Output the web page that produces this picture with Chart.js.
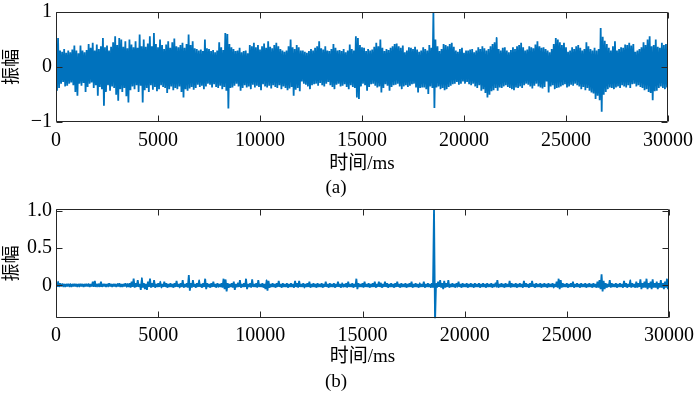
<!DOCTYPE html>
<html><head><meta charset="utf-8">
<script src="https://cdn.jsdelivr.net/npm/chart.js@4.4.1/dist/chart.umd.min.js"></script>
<style>
html,body{margin:0;padding:0;background:#fff;}
#w{position:relative;width:700px;height:393px;overflow:hidden;background:#fff;}
canvas{position:absolute;left:0;}
#c1{top:0}
#c2{top:197px}
</style></head><body>
<div id="w"><canvas id="c1" width="700" height="199"></canvas><canvas id="c2" width="700" height="196"></canvas></div>
<script>
// ---- data ----
const SAMPLE_MS = 100;             // one envelope sample per 100 ms
const xTickValues = [0, 5000, 10000, 15000, 20000, 25000, 30000];
const yTickValuesA = [-1, 0, 1];
const yTickValuesB = [0, 0.5, 1];
const panelLabels = ['(a)', '(b)'];
const xAxisTitle = '时间/ms';
const yAxisTitle = '振幅';

// (a) raw signal: local maxima / minima per 100 ms
const peaksA = [
.35,.53,.3,.28,.33,.26,.3,.27,.32,.39,
.3,.25,.39,.3,.27,.31,.42,.35,.44,.3,
.41,.33,.38,.53,.36,.39,.3,.37,.45,.56,
.4,.53,.5,.37,.47,.34,.5,.41,.36,.47,
.35,.59,.38,.5,.37,.43,.56,.38,.62,.42,
.36,.5,.4,.33,.41,.47,.35,.45,.52,.38,
.36,.4,.44,.35,.42,.59,.4,.47,.34,.33,
.3,.32,.29,.5,.34,.33,.29,.31,.27,.3,
.45,.36,.31,.62,.6,.42,.36,.33,.29,.3,
.35,.27,.29,.3,.25,.4,.38,.44,.36,.4,
.32,.38,.43,.35,.47,.37,.34,.4,.44,.38,
.33,.3,.28,.3,.38,.5,.36,.33,.4,.36,
.3,.3,.28,.26,.29,.33,.3,.35,.38,.47,
.34,.32,.38,.3,.29,.33,.42,.35,.3,.31,
.29,.33,.27,.3,.41,.33,.3,.56,.53,.4,
.36,.35,.29,.33,.3,.32,.37,.44,.38,.5,
.35,.29,.33,.31,.35,.38,.42,.43,.38,.35,
.39,.27,.3,.36,.35,.33,.37,.32,.28,.3,
.36,.33,.3,.4,.35,1.0,.5,.38,.29,.33,
.42,.4,.38,.42,.44,.37,.3,.28,.33,.35,
.26,.3,.3,.32,.33,.27,.3,.36,.33,.38,
.34,.3,.33,.38,.42,.45,.53,.33,.3,.35,
.36,.3,.27,.31,.36,.33,.38,.4,.44,.36,
.3,.32,.38,.36,.34,.41,.47,.38,.35,.36,
.33,.3,.27,.33,.42,.53,.5,.45,.4,.44,
.36,.28,.3,.36,.33,.38,.4,.35,.3,.33,
.45,.38,.33,.3,.35,.3,.33,.71,.55,.48,
.42,.35,.3,.38,.47,.3,.33,.36,.35,.41,
.4,.44,.39,.42,.28,.3,.33,.36,.45,.4,
.5,.56,.38,.4,.5,.37,.35,.44,.4,.42,
.38
];
const troughsA = [
-.43,-.38,-.3,-.27,-.35,-.34,-.3,-.28,-.33,-.45,
-.52,-.3,-.34,-.29,-.45,-.36,-.3,-.28,-.38,-.33,
-.52,-.36,-.4,-.7,-.45,-.33,-.43,-.35,-.38,-.5,
-.61,-.4,-.45,-.38,-.53,-.64,-.42,-.35,-.4,-.33,
-.45,-.34,-.64,-.42,-.38,-.45,-.33,-.41,-.36,-.44,
-.4,-.33,-.36,-.38,-.47,-.4,-.35,-.42,-.38,-.4,
-.35,-.45,-.55,-.4,-.43,-.39,-.36,-.41,-.38,-.32,
-.36,-.34,-.4,-.35,-.3,-.32,-.37,-.31,-.36,-.38,
-.34,-.4,-.36,-.43,-.75,-.38,-.37,-.34,-.3,-.35,
-.43,-.38,-.33,-.37,-.35,-.4,-.32,-.37,-.34,-.36,
-.42,-.31,-.35,-.37,-.34,-.39,-.33,-.36,-.38,-.33,
-.4,-.35,-.38,-.42,-.39,-.36,-.52,-.41,-.38,-.44,
-.26,-.3,-.32,-.35,-.4,-.33,-.31,-.3,-.34,-.29,
-.33,-.35,-.3,-.27,-.33,-.36,-.4,-.32,-.3,-.35,
-.34,-.31,-.36,-.4,-.33,-.36,-.38,-.55,-.58,-.35,
-.3,-.33,-.43,-.36,-.31,-.3,-.34,-.37,-.35,-.46,
-.38,-.31,-.34,-.43,-.36,-.33,-.32,-.3,-.35,-.4,
-.35,-.33,-.36,-.34,-.31,-.3,-.37,-.46,-.38,-.37,
-.37,-.4,-.49,-.35,-.38,-.74,-.37,-.35,-.4,-.38,
-.42,-.4,-.36,-.34,-.31,-.3,-.27,-.32,-.3,-.26,
-.3,-.27,-.31,-.33,-.3,-.35,-.38,-.33,-.43,-.4,
-.47,-.55,-.5,-.44,-.42,-.38,-.43,-.37,-.38,-.35,
-.33,-.36,-.38,-.4,-.42,-.37,-.38,-.35,-.38,-.33,
-.3,-.32,-.35,-.39,-.34,-.3,-.35,-.37,-.39,-.36,
-.26,-.46,-.35,-.33,-.4,-.38,-.37,-.35,-.33,-.31,
-.37,-.35,-.32,-.34,-.3,-.33,-.35,-.4,-.36,-.42,
-.38,-.43,-.46,-.48,-.58,-.52,-.6,-.81,-.5,-.45,
-.4,-.37,-.38,-.4,-.37,-.35,-.38,-.33,-.35,-.37,
-.33,-.38,-.31,-.3,-.35,-.33,-.36,-.38,-.42,-.4,
-.45,-.47,-.6,-.44,-.43,-.38,-.35,-.38,-.4,-.37,
-.35
];

// (b) processed signal: local maxima / minima per 100 ms
const peaksB = [
.02,.05,.03,.02,.02,.02,.02,.02,.02,.02,
.02,.02,.02,.02,.02,.02,.02,.02,.05,.06,
.02,.02,.05,.02,.02,.02,.03,.02,.02,.02,
.02,.03,.02,.02,.03,.02,.03,.05,.09,.03,
.07,.02,.10,.03,.02,.05,.09,.03,.07,.02,
.03,.05,.02,.05,.03,.02,.03,.02,.03,.06,
.02,.03,.07,.02,.03,.14,.03,.07,.02,.03,
.07,.02,.03,.09,.03,.02,.03,.05,.02,.03,
.02,.03,.09,.08,.03,.02,.03,.05,.02,.03,
.07,.02,.03,.09,.02,.03,.08,.02,.03,.07,
.02,.03,.02,.07,.06,.02,.03,.02,.03,.06,
.02,.03,.02,.03,.02,.03,.02,.06,.03,.06,
.02,.03,.02,.03,.05,.02,.03,.02,.03,.02,
.03,.02,.05,.02,.03,.02,.03,.02,.05,.02,
.03,.02,.03,.05,.02,.03,.02,.09,.03,.02,
.03,.05,.02,.03,.02,.03,.05,.02,.05,.03,
.02,.05,.03,.02,.03,.02,.03,.05,.02,.03,
.02,.03,.02,.03,.05,.02,.03,.02,.03,.02,
.05,.02,.03,.02,.03,1.05,.03,.05,.07,.03,
.06,.03,.07,.02,.03,.02,.03,.05,.02,.03,
.02,.03,.02,.03,.02,.03,.02,.03,.02,.03,
.02,.03,.02,.03,.02,.03,.07,.02,.03,.02,
.03,.02,.06,.03,.02,.03,.02,.03,.02,.06,
.03,.02,.03,.06,.02,.03,.02,.03,.02,.03,
.02,.03,.02,.03,.02,.05,.09,.07,.03,.02,
.03,.02,.03,.05,.02,.03,.02,.03,.02,.03,
.02,.03,.02,.03,.02,.05,.07,.15,.06,.03,
.02,.07,.03,.02,.03,.02,.03,.02,.06,.03,
.02,.07,.03,.02,.05,.03,.08,.03,.05,.09,
.03,.05,.08,.03,.05,.03,.07,.03,.05,.09,
.03
];
const troughsB = [
-.02,-.02,-.015,-.015,-.02,-.015,-.015,-.02,-.015,-.015,
-.02,-.015,-.015,-.02,-.015,-.015,-.02,-.015,-.02,-.02,
-.015,-.02,-.02,-.015,-.02,-.015,-.015,-.02,-.015,-.02,
-.015,-.02,-.02,-.015,-.02,-.02,-.03,-.02,-.03,-.02,
-.02,-.06,-.03,-.05,-.06,-.02,-.03,-.02,-.03,-.02,
-.02,-.03,-.02,-.02,-.03,-.02,-.02,-.03,-.02,-.02,
-.03,-.02,-.03,-.02,-.03,-.07,-.03,-.02,-.03,-.02,
-.02,-.03,-.02,-.05,-.02,-.03,-.02,-.02,-.03,-.02,
-.02,-.03,-.05,-.08,-.03,-.02,-.03,-.06,-.02,-.02,
-.03,-.02,-.02,-.05,-.02,-.03,-.02,-.02,-.03,-.02,
-.02,-.03,-.05,-.07,-.03,-.02,-.02,-.03,-.02,-.02,
-.03,-.02,-.02,-.03,-.02,-.02,-.03,-.02,-.03,-.02,
-.02,-.03,-.02,-.02,-.03,-.02,-.02,-.03,-.02,-.02,
-.03,-.02,-.02,-.03,-.02,-.02,-.03,-.02,-.02,-.03,
-.02,-.02,-.03,-.02,-.02,-.03,-.02,-.05,-.02,-.02,
-.03,-.02,-.02,-.03,-.02,-.02,-.03,-.02,-.02,-.03,
-.02,-.02,-.03,-.02,-.02,-.03,-.02,-.02,-.03,-.02,
-.02,-.03,-.02,-.02,-.03,-.02,-.02,-.03,-.02,-.02,
-.03,-.02,-.02,-.03,-.03,-.5,-.03,-.02,-.03,-.05,
-.03,-.02,-.03,-.02,-.02,-.03,-.02,-.02,-.03,-.02,
-.02,-.03,-.02,-.02,-.03,-.02,-.02,-.03,-.02,-.02,
-.03,-.02,-.02,-.03,-.02,-.02,-.03,-.02,-.02,-.03,
-.02,-.02,-.03,-.02,-.02,-.03,-.02,-.02,-.03,-.02,
-.02,-.03,-.02,-.02,-.03,-.02,-.02,-.03,-.02,-.02,
-.03,-.02,-.02,-.03,-.02,-.03,-.05,-.03,-.02,-.02,
-.03,-.02,-.02,-.03,-.02,-.02,-.03,-.02,-.02,-.03,
-.02,-.02,-.03,-.02,-.03,-.03,-.05,-.08,-.05,-.03,
-.02,-.03,-.02,-.02,-.03,-.02,-.02,-.03,-.02,-.03,
-.02,-.03,-.02,-.03,-.03,-.02,-.05,-.03,-.03,-.05,
-.03,-.05,-.03,-.03,-.05,-.03,-.03,-.05,-.03,-.05,
-.03
];

// ---- trace: alternate each interval's peak and trough ----
function buildTrace(peaks, troughs) {
  const pts = [];
  for (let i = 0; i < peaks.length; i++) {
    pts.push({x: i * SAMPLE_MS, y: peaks[i]});
    pts.push({x: i * SAMPLE_MS + SAMPLE_MS / 2, y: troughs[i]});
  }
  return pts;
}

const SERIF = '"Liberation Serif","Times New Roman","Noto Sans CJK SC",serif';
const INK = '#000';
const AXIS = '#262626';
const LINE = '#0072BD';

const framePlugin = {
  id: 'frame',
  afterDatasetsDraw(chart) {
    const {ctx, chartArea: a, scales: {x, y}} = chart;
    const L = Math.round(a.left) + 0.5, R = Math.round(a.right) - 0.5;
    const T = Math.round(a.top) + 0.5, B = Math.round(a.bottom) - 0.5;
    const TL = 6;
    ctx.save();
    ctx.strokeStyle = AXIS;
    ctx.lineWidth = 1;
    ctx.beginPath();
    ctx.rect(L, T, R - L, B - T);
    x.ticks.forEach(t => {
      const px = Math.round(x.getPixelForValue(t.value)) + 0.5;
      ctx.moveTo(px, B); ctx.lineTo(px, B - TL);
      ctx.moveTo(px, T); ctx.lineTo(px, T + TL);
    });
    y.ticks.forEach(t => {
      const py = Math.round(y.getPixelForValue(t.value)) + 0.5;
      ctx.moveTo(L, py); ctx.lineTo(L + TL, py);
      ctx.moveTo(R, py); ctx.lineTo(R - TL, py);
    });
    ctx.stroke();
    ctx.restore();
  }
};

function makeChart(id, peaks, troughs, yMin, yMax, yTicks, yFmt, label, xH, xPad, titlePad) {
  return new Chart(document.getElementById(id), {
    type: 'line',
    data: {datasets: [{
      data: buildTrace(peaks, troughs),
      borderColor: LINE, backgroundColor: LINE, borderWidth: 1.8,
      borderJoinStyle: 'bevel',
      // tiny tension keeps straight segments but avoids the per-pixel fast path
      pointRadius: 0, tension: 0.000001, fill: 'origin', clip: 0
    }]},
    options: {
      responsive: false, animation: false, devicePixelRatio: 1,
      parsing: false,
      layout: {padding: {top: 8, right: 28, left: 0, bottom: 0}},
      plugins: {
        legend: {display: false}, tooltip: {enabled: false},
        title: {display: true, text: label, position: 'bottom', color: INK,
                font: {family: SERIF, size: 19, weight: 'normal'}, padding: {top: 0, bottom: 0}}
      },
      scales: {
        x: {
          type: 'linear', min: 0, max: 30000,
          grid: {display: false, drawTicks: false}, border: {display: false},
          afterBuildTicks: s => { s.ticks = xTickValues.map(v => ({value: v})); },
          afterFit: s => { s.height = xH; },
          ticks: {color: INK, padding: xPad, maxRotation: 0, autoSkip: false,
                  font: {family: SERIF, size: 20}, callback: v => String(v)},
          title: {display: true, text: xAxisTitle, color: INK,
                  font: {family: SERIF, size: 19}, padding: {top: 0, bottom: titlePad}}
        },
        y: {
          type: 'linear', min: yMin, max: yMax,
          grid: {display: false, drawTicks: false}, border: {display: false},
          afterBuildTicks: s => { s.ticks = yTicks.map(v => ({value: v})); },
          afterFit: s => { s.width = 56; },
          ticks: {color: INK, padding: 4, autoSkip: false,
                  font: {family: SERIF, size: 20, lineHeight: 0.8}, callback: yFmt},
          title: {display: true, text: yAxisTitle, color: INK,
                  font: {family: SERIF, size: 18}, padding: {top: 1, bottom: 0}}
        }
      }
    },
    plugins: [framePlugin]
  });
}

makeChart('c1', peaksA, troughsA, -1, 1, yTickValuesA,
  v => v < 0 ? '\u2212' + Math.abs(v) : String(v), panelLabels[0], 54, 7, 1);
makeChart('c2', peaksB, troughsB, -0.44, 1.026, yTickValuesB,
  v => v === 0 ? '0' : v.toFixed(1), panelLabels[1], 52, 6, 2);
</script>
</body></html>
